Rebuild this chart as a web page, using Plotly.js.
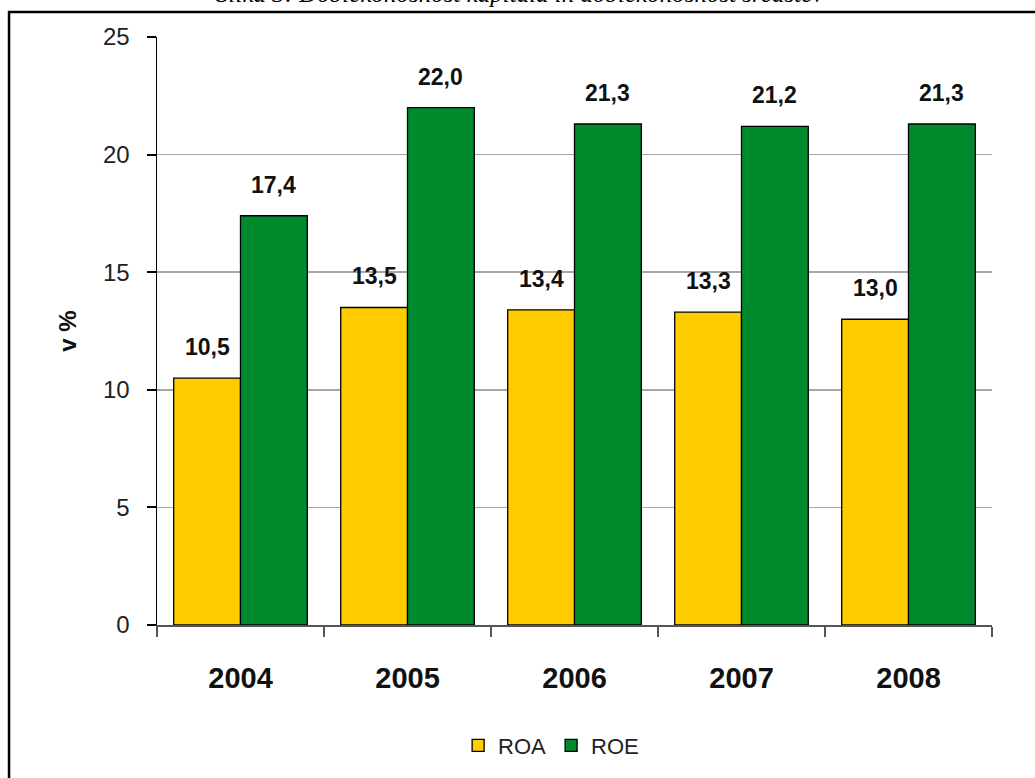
<!DOCTYPE html>
<html>
<head>
<meta charset="utf-8">
<script src="https://cdn.plot.ly/plotly-3.0.1.min.js"></script>
<style>html,body{margin:0;padding:0;background:#fff;}#chart{width:1035px;height:778px;}</style>
</head>
<body>
<div id="chart"></div>
<script>
const years = ["2004", "2005", "2006", "2007", "2008"];
const roa = [10.5, 13.5, 13.4, 13.3, 13.0];
const roe = [17.4, 22.0, 21.3, 21.2, 21.3];
const seriesNames = ["ROA", "ROE"];
const yTicks = [0, 5, 10, 15, 20, 25];
const chartTitle = "Slika 3: Dobičkonosnost kapitala in dobičkonosnost sredstev";

const barLine = {color: "#000000", width: 1.3};
const traces = [
  {type: "bar", name: seriesNames[0], x: years, y: roa,
   marker: {color: "#FFCC00", line: barLine}, hoverinfo: "x+y"},
  {type: "bar", name: seriesNames[1], x: years, y: roe,
   marker: {color: "#008A2E", line: barLine}, hoverinfo: "x+y"}
];

const labelFont = {family: "Liberation Sans, Arial, sans-serif", size: 23, color: "#111"};
const annotations = [];
function fmt(v){ return v.toFixed(1).replace(".", ","); }
years.forEach((yr, i) => {
  annotations.push({x: i, y: roa[i], xref: "x", yref: "y", text: "<b>" + fmt(roa[i]) + "</b>",
    showarrow: false, xshift: -33.4, yshift: 16, yanchor: "bottom", font: labelFont});
  annotations.push({x: i, y: roe[i], xref: "x", yref: "y", text: "<b>" + fmt(roe[i]) + "</b>",
    showarrow: false, xshift: 33.4, yshift: 16, yanchor: "bottom", font: labelFont});
});
annotations.push({x: 0.435, y: 1.0475, xref: "paper", yref: "paper", text: "<i>" + chartTitle + "</i>",
  showarrow: false, yanchor: "bottom", xanchor: "center",
  font: {family: "Liberation Serif, Times New Roman, serif", size: 25, color: "#000"}});

const layout = {
  width: 1035, height: 778,
  margin: {l: 157, r: 43, t: 37, b: 151},
  paper_bgcolor: "#ffffff", plot_bgcolor: "#ffffff",
  separators: ",.",
  showlegend: true,
  barmode: "group", bargap: 0.2, bargroupgap: 0,
  legend: {orientation: "h", x: 0.472, xanchor: "center", y: -0.205, yanchor: "middle",
    font: {family: "Liberation Sans, Arial, sans-serif", size: 22, color: "#222"},
    itemwidth: 30, traceorder: "normal"},
  xaxis: {type: "category", range: [-0.5, years.length - 0.5], autorange: false,
    showgrid: false, showline: true, linecolor: "#555", linewidth: 2,
    ticks: "outside", tickson: "boundaries", ticklen: 10, tickcolor: "#555", tickwidth: 2,
    ticklabelstandoff: 26, tickangle: 0,
    tickfont: {family: "Liberation Sans, Arial, sans-serif", size: 29, color: "#111", weight: "bold"},
    fixedrange: true},
  yaxis: {range: [0, 25], autorange: false, tickvals: yTicks, showgrid: true, gridcolor: "#a6a6a6", gridwidth: 1.5,
    zeroline: false, showline: true, linecolor: "#000", linewidth: 1.5,
    ticks: "outside", ticklen: 9, tickcolor: "#000", tickwidth: 2,
    ticklabelstandoff: 12,
    tickfont: {family: "Liberation Sans, Arial, sans-serif", size: 24, color: "#222"},
    title: {text: "<b>v %</b>", standoff: 19, font: {family: "Liberation Sans, Arial, sans-serif", size: 24, color: "#111"}},
    fixedrange: true},
  annotations: annotations,
  shapes: [{type: "rect", xref: "paper", yref: "paper", x0: -0.1772, x1: 1.06, y0: -0.27, y1: 1.0424,
    line: {color: "#000", width: 2.5}, fillcolor: "rgba(0,0,0,0)", layer: "above"}]
};

Plotly.newPlot("chart", traces, layout, {displayModeBar: false, staticPlot: true});
</script>
</body>
</html>
